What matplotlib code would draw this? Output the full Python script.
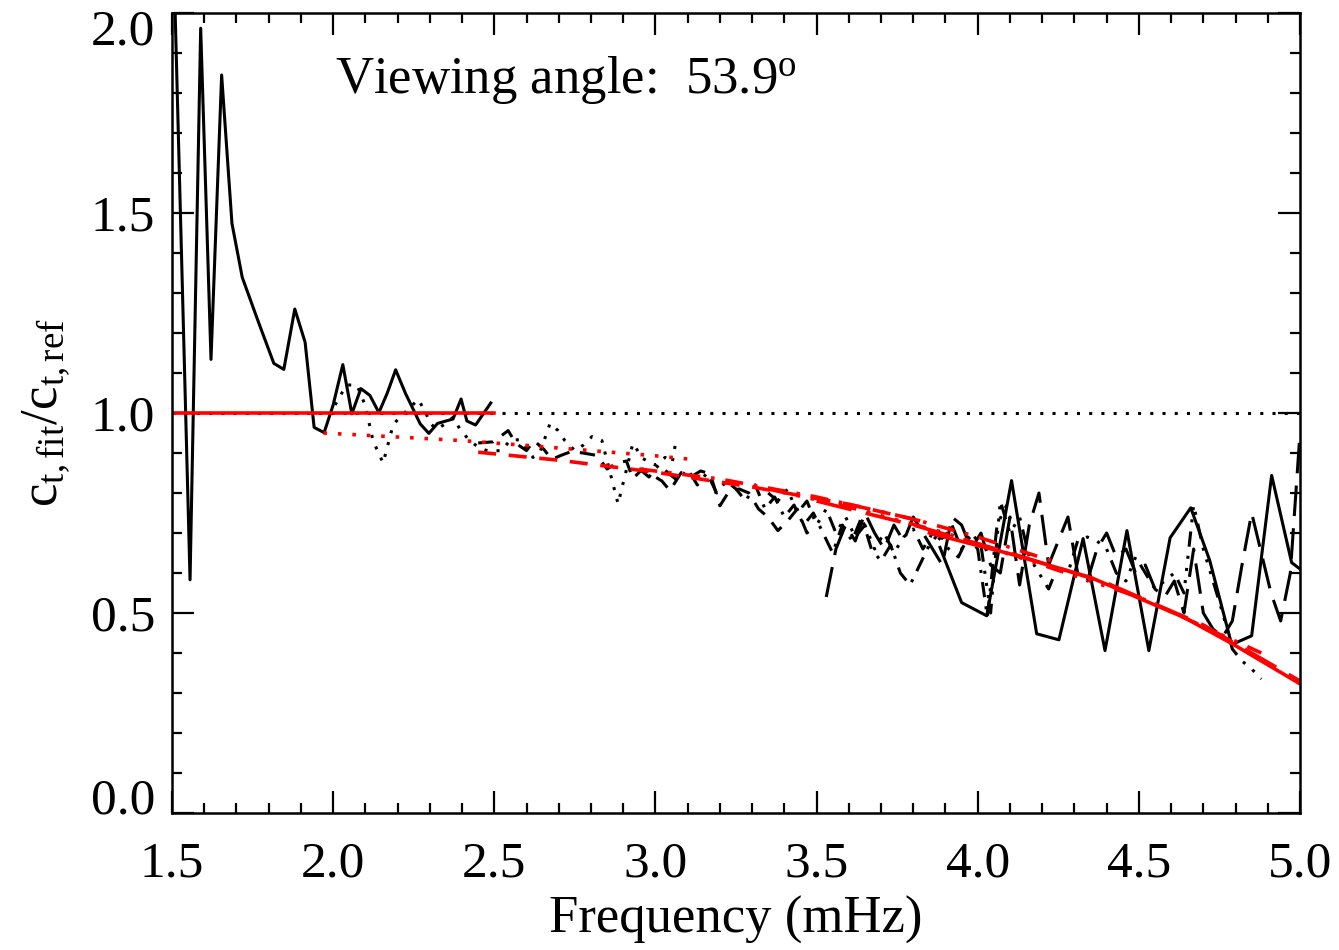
import matplotlib
matplotlib.use("Agg")
import matplotlib.pyplot as plt
from matplotlib.ticker import MultipleLocator, FixedLocator, FormatStrFormatter
from matplotlib.transforms import ScaledTranslation

plt.rcParams['font.family'] = ['Liberation Serif', 'DejaVu Serif']
plt.rcParams['mathtext.fontset'] = 'custom'
plt.rcParams['mathtext.rm'] = 'Liberation Serif'
plt.rcParams['mathtext.it'] = 'Liberation Serif:italic'

# ---------------- data ----------------
s1_f = [1.50, 1.556, 1.589, 1.621, 1.654, 1.686, 1.718, 1.767, 1.816, 1.847, 1.881, 1.913,
        1.941, 1.972, 2.000, 2.030, 2.058, 2.086, 2.114, 2.142, 2.168, 2.194, 2.225, 2.248,
        2.270, 2.297, 2.324, 2.350, 2.372, 2.397, 2.415, 2.442, 2.489]
s1_v = [2.30, 0.583, 1.962, 1.134, 1.845, 1.474, 1.339, 1.23, 1.124, 1.109, 1.26, 1.177,
        0.964, 0.951, 1.02, 1.121, 0.998, 1.061, 1.044, 1.001, 1.05, 1.108, 1.048, 1.01,
        0.973, 0.949, 0.974, 0.98, 0.985, 1.035, 0.98, 0.970, 1.025]

s2_f = [2.006, 2.027, 2.043, 2.074, 2.099, 2.124, 2.155, 2.186, 2.207, 2.235, 2.263, 2.285,
        2.300, 2.322, 2.344, 2.372, 2.394, 2.418, 2.449, 2.480, 2.523, 2.550, 2.580, 2.620,
        2.642, 2.673, 2.698, 2.719, 2.750, 2.775, 2.803, 2.834, 2.884, 2.930, 2.961, 3.000,
        3.030, 3.052, 3.065]
s2_v = [1.02, 1.05, 1.07, 1.07, 1.02, 0.93, 0.875, 0.97, 0.99, 1.01, 1.034, 1.006,
        0.975, 0.959, 0.971, 0.989, 0.959, 0.936, 0.915, 0.905, 0.906, 0.933, 0.933, 0.889,
        0.902, 0.974, 0.956, 0.931, 0.906, 0.919, 0.941, 0.931, 0.773, 0.924, 0.886, 0.87,
        0.889, 0.876, 0.936]

s3_f = [2.450, 2.497, 2.543, 2.567, 2.600, 2.623, 2.654, 2.678, 2.710, 2.740, 2.775, 2.818,
        2.850, 2.880, 2.910, 2.930, 2.960, 2.990, 3.020, 3.045, 3.080, 3.110, 3.140, 3.170,
        3.200, 3.230, 3.260, 3.290, 3.320, 3.350, 3.380, 3.410, 3.440, 3.470, 3.500]
s3_v = [0.925, 0.928, 0.956, 0.924, 0.906, 0.931, 0.909, 0.884, 0.895, 0.904, 0.900, 0.894,
        0.860, 0.875, 0.880, 0.836, 0.860, 0.845, 0.830, 0.806, 0.851, 0.840, 0.855, 0.848,
        0.768, 0.806, 0.810, 0.800, 0.760, 0.739, 0.706, 0.730, 0.760, 0.700, 0.720]

s4_f = [2.95, 2.98, 3.01, 3.04, 3.07, 3.10, 3.13, 3.16, 3.19, 3.22, 3.25, 3.28, 3.31, 3.34,
        3.37, 3.40, 3.43, 3.46, 3.49, 3.52, 3.55, 3.58, 3.61, 3.64, 3.67, 3.70, 3.73, 3.76,
        3.79, 3.82, 3.85, 3.88, 3.91, 3.94, 3.97, 4.00, 4.03, 4.06, 4.09]
s4_v = [0.86, 0.84, 0.87, 0.85, 0.83, 0.86, 0.82, 0.85, 0.80, 0.83, 0.81, 0.78, 0.82, 0.76,
        0.79, 0.74, 0.77, 0.72, 0.75, 0.70, 0.65, 0.72, 0.68, 0.74, 0.66, 0.63, 0.67, 0.60,
        0.57, 0.62, 0.67, 0.70, 0.66, 0.64, 0.69, 0.66, 0.49, 0.72, 0.77]

s5_f = [3.35, 3.38, 3.41, 3.44, 3.47, 3.50, 3.53, 3.56, 3.59, 3.62, 3.65, 3.68, 3.71, 3.74,
        3.77, 3.80, 3.83, 3.86, 3.89, 3.92, 3.95, 3.98, 4.01, 4.04, 4.07, 4.10, 4.13, 4.16,
        4.19, 4.22, 4.25, 4.28, 4.31, 4.34, 4.37, 4.40, 4.43, 4.46, 4.49, 4.52, 4.55, 4.58,
        4.61, 4.64, 4.67, 4.70, 4.73, 4.76, 4.79, 4.82, 4.85, 4.88]
s5_v = [0.80, 0.78, 0.81, 0.75, 0.78, 0.72, 0.76, 0.70, 0.74, 0.69, 0.72, 0.66, 0.70, 0.65,
        0.69, 0.71, 0.66, 0.70, 0.68, 0.72, 0.66, 0.70, 0.67, 0.50, 0.78, 0.70, 0.74, 0.64,
        0.60, 0.56, 0.62, 0.60, 0.68, 0.69, 0.68, 0.66, 0.60, 0.58, 0.64, 0.60, 0.56, 0.58,
        0.60, 0.55, 0.77, 0.66, 0.58, 0.50, 0.41, 0.38, 0.36, 0.335]

s6_f = [3.53, 3.56, 3.59, 3.62, 3.65, 3.68, 3.71, 3.74, 3.77, 3.80, 3.83, 3.86, 3.89, 3.92,
        3.95, 3.98, 4.01, 4.04, 4.07, 4.10, 4.13, 4.16, 4.19, 4.22, 4.25, 4.28, 4.31, 4.34,
        4.37, 4.40, 4.43, 4.46, 4.49, 4.52, 4.55, 4.58, 4.61, 4.64, 4.67, 4.70, 4.73, 4.76,
        4.79, 4.82, 4.85, 4.88, 4.91, 4.94, 4.97, 5.00]
s6_v = [0.54, 0.66, 0.72, 0.68, 0.75, 0.70, 0.66, 0.72, 0.68, 0.74, 0.70, 0.66, 0.62, 0.74,
        0.72, 0.66, 0.70, 0.62, 0.60, 0.74, 0.57, 0.72, 0.80, 0.62, 0.68, 0.74, 0.60, 0.58,
        0.66, 0.70, 0.64, 0.66, 0.60, 0.62, 0.56, 0.54, 0.58, 0.50, 0.66, 0.50, 0.46, 0.44,
        0.48, 0.62, 0.75, 0.65, 0.55, 0.48, 0.60, 0.95]

s7_f = [3.883, 3.950, 4.028, 4.105, 4.183, 4.252, 4.327, 4.395, 4.463, 4.531, 4.597, 4.661,
        4.720, 4.788, 4.850, 4.912, 4.974, 5.000]
s7_v = [0.664, 0.526, 0.493, 0.831, 0.448, 0.433, 0.686, 0.406, 0.706, 0.406, 0.688, 0.763,
        0.631, 0.421, 0.443, 0.844, 0.626, 0.610]

# fitted curves (red)
r1_f = [1.50, 2.00, 2.50]
r1_v = [1.000, 1.000, 1.000]
r2_f = [1.97, 2.20, 2.40, 2.60, 2.80, 3.00, 3.10]
r2_v = [0.950, 0.940, 0.931, 0.919, 0.906, 0.893, 0.885]
r3_f = [2.45, 2.70, 3.00, 3.30, 3.60, 3.85]
r3_v = [0.902, 0.882, 0.852, 0.815, 0.772, 0.725]
r4_f = [2.95, 3.20, 3.50, 3.80, 4.00, 4.25]
r4_v = [0.860, 0.835, 0.790, 0.735, 0.690, 0.625]
r5_f = [3.35, 3.60, 3.90, 4.20, 4.50, 4.88]
r5_v = [0.810, 0.765, 0.700, 0.620, 0.540, 0.400]
r6_f = [3.50, 3.80, 4.10, 4.40, 4.70, 5.00]
r6_v = [0.780, 0.720, 0.650, 0.575, 0.470, 0.330]
r7_f = [3.85, 4.10, 4.35, 4.64, 4.79, 5.00]
r7_v = [0.700, 0.648, 0.589, 0.489, 0.423, 0.323]

ref_f = [1.5, 5.0]
ref_v = [1.0, 1.0]

x_ticks = [1.5, 2.0, 2.5, 3.0, 3.5, 4.0, 4.5, 5.0]
y_ticks = [0.0, 0.5, 1.0, 1.5, 2.0]

# ---------------- styles ----------------
LS_SOLID = '-'
LS_DOT = (0, (1, 3))
LS_DASH = (0, (5, 3.5))
LS_DASHDOT = (0, (5, 3, 1, 3))
LS_DASH3DOT = (0, (5, 3, 1, 3, 1, 3, 1, 3))
LS_LONG = (0, (10, 4))

fig = plt.figure(figsize=(13.39, 9.5), dpi=100)
ax = fig.add_axes([172/1339, 1-813/950, (1300-172)/1339, (813-13)/950])

LW = 2.2
ax.plot(ref_f, ref_v, color='black', lw=LW, ls=LS_DOT, dash_capstyle='butt')

black = [(s1_f, s1_v, LS_SOLID), (s2_f, s2_v, LS_DOT), (s3_f, s3_v, LS_DASH),
         (s4_f, s4_v, LS_DASHDOT), (s5_f, s5_v, LS_DASH3DOT), (s6_f, s6_v, LS_LONG),
         (s7_f, s7_v, LS_SOLID)]
for f, v, ls in black:
    ax.plot(f, v, color='black', lw=LW, ls=ls, dash_capstyle='butt')

red = [(r1_f, r1_v, LS_SOLID), (r2_f, r2_v, LS_DOT), (r3_f, r3_v, LS_DASH),
       (r4_f, r4_v, LS_DASHDOT), (r5_f, r5_v, LS_DASH3DOT), (r6_f, r6_v, LS_LONG),
       (r7_f, r7_v, LS_SOLID)]
for f, v, ls in red:
    ax.plot(f, v, color='#ff0000', lw=LW + 0.4, ls=ls, dash_capstyle='butt')

ax.set_xlim(1.5, 5.0)
ax.set_ylim(0.0, 2.0)
ax.xaxis.set_major_locator(FixedLocator(x_ticks))
ax.xaxis.set_minor_locator(MultipleLocator(0.1))
ax.yaxis.set_major_locator(FixedLocator(y_ticks))
ax.yaxis.set_minor_locator(MultipleLocator(0.1))
ax.xaxis.set_major_formatter(FormatStrFormatter('%.1f'))
ax.yaxis.set_major_formatter(FormatStrFormatter('%.1f'))

ax.tick_params(which='both', direction='in', top=True, right=True, width=1.6, labelsize=37)
ax.tick_params(which='major', length=16)
ax.tick_params(which='minor', length=7.5)
ax.tick_params(axis='x', which='major', pad=20)
ax.tick_params(axis='y', which='major', pad=12)
for sp in ax.spines.values():
    sp.set_linewidth(1.8)

yt = ax.yaxis.get_major_ticks()
yt[0].label1.set_va('baseline')
yt[-1].label1.set_va('baseline')
yt[-1].label1.set_transform(yt[-1].label1.get_transform()
                            + ScaledTranslation(0, -0.31, fig.dpi_scale_trans))

ax.set_xlabel('Frequency (mHz)', fontsize=38, labelpad=6)
ax.set_ylabel(r'$\mathrm{c_{t,fit}/c_{t,ref}}$', fontsize=38, labelpad=14)

ax.text(2.006, 1.80, r'Viewing angle:  53.9$^{\rm o}$', fontsize=38, ha='left', va='baseline')

fig.savefig('out.png', dpi=100)
